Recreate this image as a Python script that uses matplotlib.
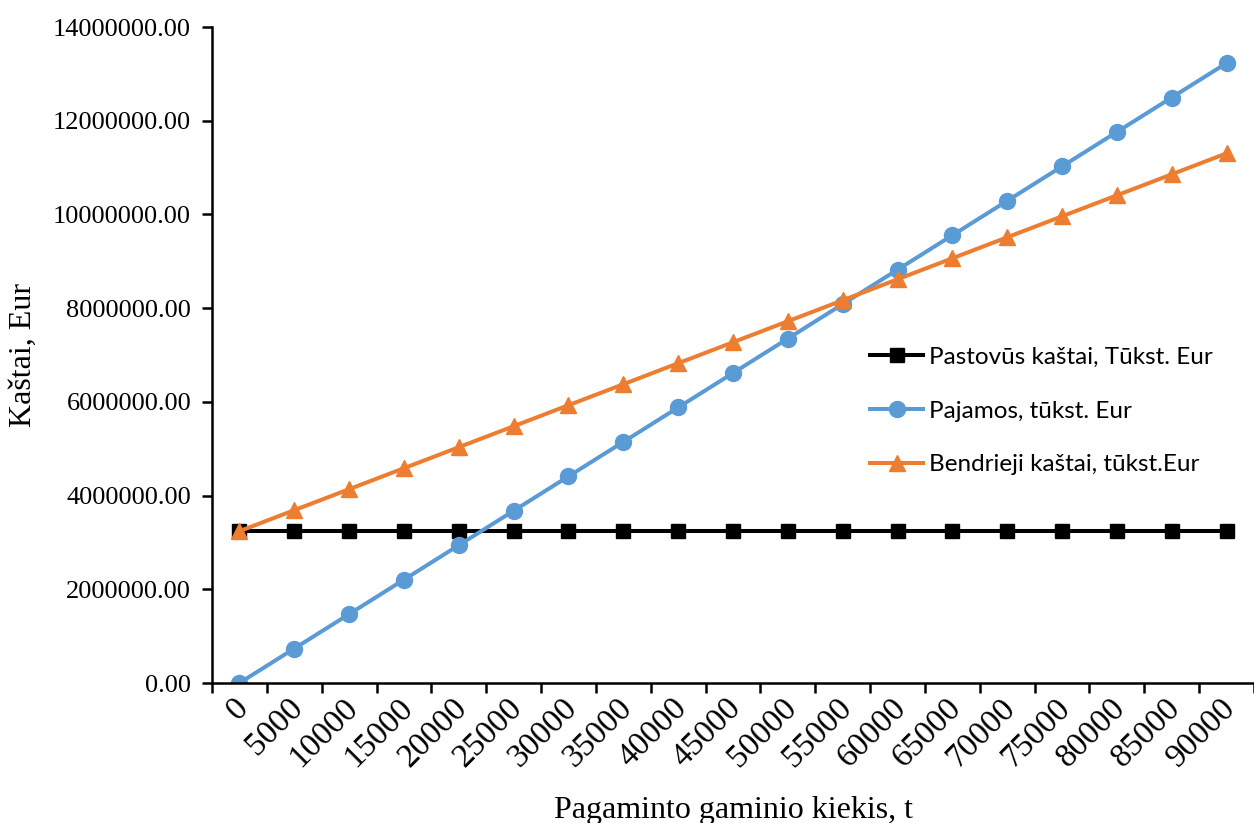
import matplotlib
matplotlib.use("Agg")
import matplotlib.pyplot as plt
import matplotlib.transforms as mtransforms
from matplotlib.ticker import FormatStrFormatter

# Pagaminto kiekio kategorijos (t)
kiekis = ["0", "5000", "10000", "15000", "20000", "25000", "30000", "35000", "40000",
          "45000", "50000", "55000", "60000", "65000", "70000", "75000", "80000",
          "85000", "90000"]

pastovus = [3240000] * 19
pajamos = [0, 735000, 1470000, 2205000, 2940000, 3675000, 4410000, 5145000,
           5880000, 6615000, 7350000, 8085000, 8820000, 9555000, 10290000,
           11025000, 11760000, 12495000, 13230000]
bendrieji = [3240000, 3688000, 4136000, 4584000, 5032000, 5480000, 5928000,
             6376000, 6824000, 7272000, 7720000, 8168000, 8616000, 9064000,
             9512000, 9960000, 10408000, 10856000, 11304000]

serif = "Liberation Serif"
sans = "Lato"

fig = plt.figure(figsize=(12.54, 8.23), dpi=100)
ax = fig.add_axes([212 / 1254, 140 / 823, 1042 / 1254, 656 / 823])

x = list(range(len(kiekis)))
ax.plot(x, pastovus, color="black", lw=2.9, marker="s", ms=10,
        label="Pastovūs kaštai, Tūkst. Eur")
ax.plot(x, pajamos, color="#5B9BD5", lw=2.9, marker="o", ms=11.5,
        label="Pajamos, tūkst. Eur")
ax.plot(x, bendrieji, color="#ED7D31", lw=2.9, marker="^", ms=12,
        label="Bendrieji kaštai, tūkst.Eur")

ax.set_xlim(-0.5, len(kiekis) - 0.5)
ax.set_ylim(0, 14000000)
ax.set_yticks(range(0, 14000001, 2000000))
ax.yaxis.set_major_formatter(FormatStrFormatter("%.2f"))

# kategorijų žymės tarp taškų, etiketės po taškais
ax.set_xticks(x)
ax.set_xticklabels(kiekis, rotation=45, ha="right", va="top",
                   rotation_mode="anchor", fontsize=24, family=serif)
ax.tick_params(axis="x", which="major", length=0, pad=12)
shift = mtransforms.ScaledTranslation(-7 / 100, 7 / 100, fig.dpi_scale_trans)
for lab in ax.get_xticklabels():
    lab.set_transform(lab.get_transform() + shift)
ax.set_xticks([i - 0.5 for i in range(len(kiekis) + 1)], minor=True)
ax.tick_params(axis="x", which="minor", length=7, width=1.8, direction="out")
ax.tick_params(axis="y", length=7, width=1.8, direction="out", pad=8)
for lab in ax.get_yticklabels():
    lab.set_fontsize(19)
    lab.set_family(serif)

for s in ["top", "right"]:
    ax.spines[s].set_visible(False)
for s in ["left", "bottom"]:
    ax.spines[s].set_linewidth(1.8)

ax.set_ylabel("Kaštai, Eur", fontsize=23, family=serif)
ax.yaxis.set_label_coords(-0.167, 0.5)
ax.set_xlabel("Pagaminto gaminio kiekis, t", fontsize=23, family=serif, va="top")
ax.xaxis.set_label_coords(0.5, -0.172)

ax.legend(loc="center left", bbox_to_anchor=(0.622, 0.4146), frameon=False,
          prop={"family": sans, "size": 17.5}, handlelength=2.2,
          handletextpad=0.25, labelspacing=1.35, borderaxespad=0)

fig.savefig("out.png", dpi=100)
